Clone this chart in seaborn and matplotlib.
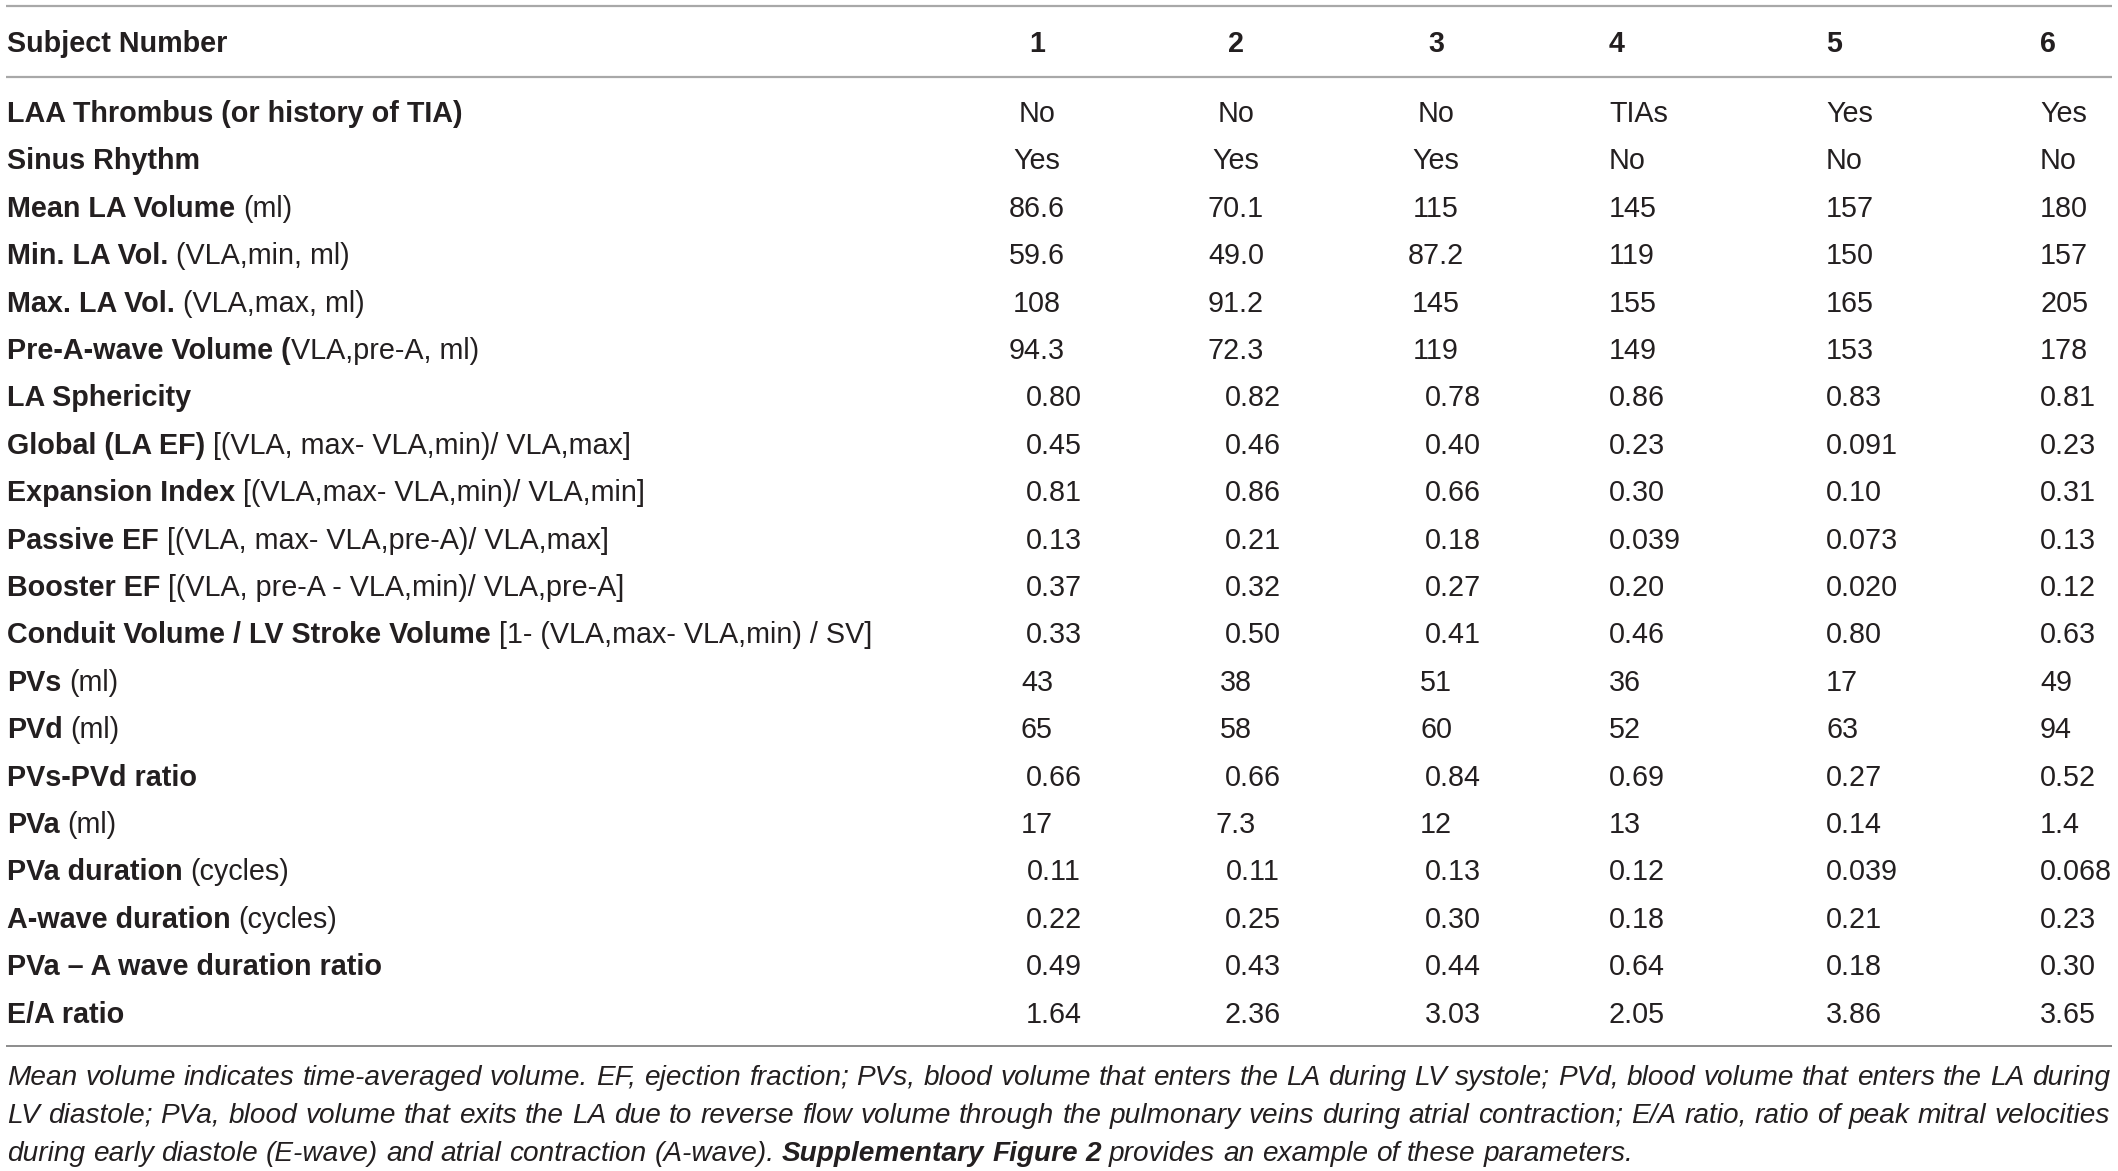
import matplotlib
matplotlib.use("Agg")
import matplotlib.pyplot as plt
import seaborn as sns

# Table content
subjects = ["1", "2", "3", "4", "5", "6"]

row_bold = [
    "LAA Thrombus (or history of TIA)", "Sinus Rhythm", "Mean LA Volume",
    "Min. LA Vol.", "Max. LA Vol.", "Pre-A-wave Volume (", "LA Sphericity",
    "Global (LA EF)", "Expansion Index", "Passive EF", "Booster EF",
    "Conduit Volume / LV Stroke Volume", "PVs", "PVd", "PVs-PVd ratio",
    "PVa", "PVa duration", "A-wave duration", "PVa \u2013 A wave duration ratio",
    "E/A ratio",
]
row_detail = [
    "", "", "(ml)", "(VLA,min, ml)", "(VLA,max, ml)", "VLA,pre-A, ml)", "",
    "[(VLA, max- VLA,min)/ VLA,max]", "[(VLA,max- VLA,min)/ VLA,min]",
    "[(VLA, max- VLA,pre-A)/ VLA,max]", "[(VLA, pre-A - VLA,min)/ VLA,pre-A]",
    "[1- (VLA,max- VLA,min) / SV]", "(ml)", "(ml)", "", "(ml)", "(cycles)",
    "(cycles)", "", "",
]

s1 = ["No", "Yes", "86.6", "59.6", "108", "94.3", "0.80", "0.45", "0.81", "0.13",
      "0.37", "0.33", "43", "65", "0.66", "17", "0.11", "0.22", "0.49", "1.64"]
s2 = ["No", "Yes", "70.1", "49.0", "91.2", "72.3", "0.82", "0.46", "0.86", "0.21",
      "0.32", "0.50", "38", "58", "0.66", "7.3", "0.11", "0.25", "0.43", "2.36"]
s3 = ["No", "Yes", "115", "87.2", "145", "119", "0.78", "0.40", "0.66", "0.18",
      "0.27", "0.41", "51", "60", "0.84", "12", "0.13", "0.30", "0.44", "3.03"]
s4 = ["TIAs", "No", "145", "119", "155", "149", "0.86", "0.23", "0.30", "0.039",
      "0.20", "0.46", "36", "52", "0.69", "13", "0.12", "0.18", "0.64", "2.05"]
s5 = ["Yes", "No", "157", "150", "165", "153", "0.83", "0.091", "0.10", "0.073",
      "0.020", "0.80", "17", "63", "0.27", "0.14", "0.039", "0.21", "0.18", "3.86"]
s6 = ["Yes", "No", "180", "157", "205", "178", "0.81", "0.23", "0.31", "0.13",
      "0.12", "0.63", "49", "94", "0.52", "1.4", "0.068", "0.23", "0.30", "3.65"]
columns = [s1, s2, s3, s4, s5, s6]

note_lines = [
    "Mean volume indicates time-averaged volume. EF, ejection fraction; PVs, blood volume "
    "that enters the LA during LV systole; PVd, blood volume that enters the LA during",
    "LV diastole; PVa, blood volume that exits the LA due to reverse flow volume through "
    "the pulmonary veins during atrial contraction; E/A ratio, ratio of peak mitral velocities",
    "during early diastole (E-wave) and atrial contraction (A-wave).",
]
note_bold = "Supplementary Figure 2"
note_tail = "provides an example of these parameters."

# Layout (pixels)
W, H = 2118, 1171
sns.set_theme(style="white")
plt.rcParams["font.family"] = ["Liberation Sans", "DejaVu Sans"]
INK = "#231f20"
FS = 20.7

fig = plt.figure(figsize=(W / 100, H / 100), dpi=100)
ax = fig.add_axes([0, 0, 1, 1])
ax.set_xlim(0, W)
ax.set_ylim(H, 0)
ax.axis("off")
renderer = fig.canvas.get_renderer()


def width(t):
    bb = t.get_window_extent(renderer=renderer)
    return bb.width


x_label = 7
centers = [1037, 1236, 1436]      # centred columns
lefts = [1609, 1826, 2040]        # left-aligned columns
row0, step = 122, 47.4

# rules
ax.hlines([6], 6, 2112, color="#a8a8a8", lw=1.6)
ax.hlines([77], 6, 2112, color="#a8a8a8", lw=1.6)
ax.hlines([1046], 6, 2112, color="#6e6e6e", lw=1.1)

# header
ax.text(x_label, 52, "Subject Number", fontsize=FS, fontweight="bold", color=INK)
for j, s in enumerate(subjects):
    if j < 3:
        ax.text(centers[j], 52, s, fontsize=FS, fontweight="bold", color=INK, ha="center")
    else:
        ax.text(lefts[j - 3], 52, s, fontsize=FS, fontweight="bold", color=INK, ha="left")

# body
for i, (b, d) in enumerate(zip(row_bold, row_detail)):
    y = row0 + i * step
    tb = ax.text(x_label, y, b, fontsize=FS, fontweight="bold", color=INK)
    if d:
        gap = 0 if b.endswith("(") else 8
        ax.text(x_label + width(tb) + gap, y, d, fontsize=FS, color=INK)
    for j, col in enumerate(columns):
        v = col[i]
        if j < 3:
            shift = 17 if ("." in v and len(v.split(".")[1]) == 2 and i >= 6) else 0
            ax.text(centers[j] + shift, y, v, fontsize=FS, color=INK, ha="center")
        else:
            ax.text(lefts[j - 3], y, v, fontsize=FS, color=INK, ha="left")

# footnote, justified lines
NFS = 20.2
note_y = [1085, 1123, 1161]
x_end = 2110


def place_words(words, y, justify):
    arts = []
    for w, bold in words:
        t = ax.text(0, y, w, fontsize=NFS, style="italic",
                    fontweight="bold" if bold else "normal", color=INK)
        arts.append(t)
    ws = [width(t) for t in arts]
    if justify:
        sp = (x_end - x_label - sum(ws)) / (len(ws) - 1)
    else:
        probe = ax.text(0, y, "a a", fontsize=NFS, style="italic")
        probe2 = ax.text(0, y, "aa", fontsize=NFS, style="italic")
        sp = width(probe) - width(probe2)
        probe.remove()
        probe2.remove()
    x = x_label
    for t, w in zip(arts, ws):
        t.set_x(x)
        x += w + sp


place_words([(w, False) for w in note_lines[0].split()], note_y[0], True)
place_words([(w, False) for w in note_lines[1].split()], note_y[1], True)
last = [(w, False) for w in note_lines[2].split()]
last += [(w, True) for w in note_bold.split()]
last += [(w, False) for w in note_tail.split()]
place_words(last, note_y[2], False)

fig.savefig("out.png", dpi=100)
